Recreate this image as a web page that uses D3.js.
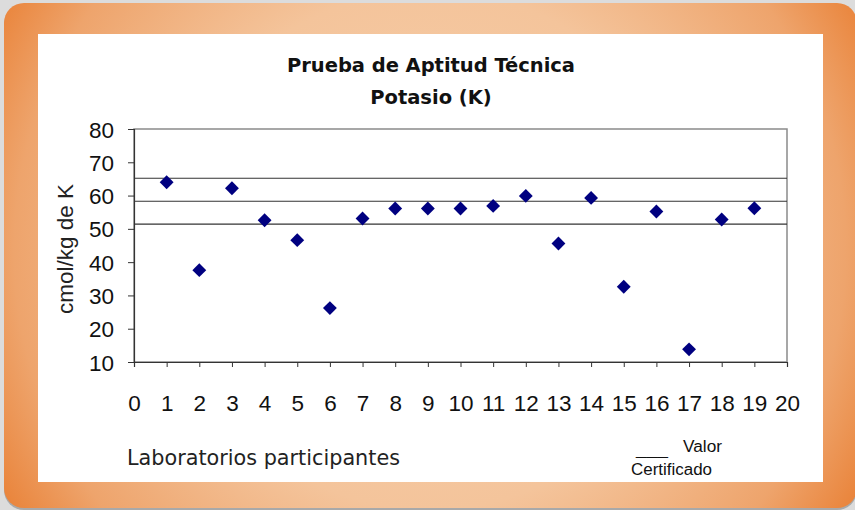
<!DOCTYPE html>
<html>
<head>
<meta charset="utf-8">
<script src="https://cdn.jsdelivr.net/npm/d3@7"></script>
<style>
  body { margin: 0; background: #dcdcdc; }
  svg { display: block; }
</style>
</head>
<body>
<div id="chart"></div>
<script>
// laboratorios participantes y resultados de potasio (cmol/kg)
let labs = [1, 2, 3, 4, 5, 6, 7, 8, 9, 10, 11, 12, 13, 14, 15, 16, 17, 18, 19];
let potasio = [64.0, 37.6, 62.2, 52.6, 46.6, 26.2, 53.1, 56.1, 56.1, 56.1, 56.9, 59.9, 45.6, 59.3, 32.6, 55.2, 13.8, 52.8, 56.2];
// valor certificado y limites
let refLines = [65.2, 58.3, 51.4];
let yTicks = [10, 20, 30, 40, 50, 60, 70, 80];
let xTicks = d3.range(0, 21);

let w = 855;
let h = 510;

let svg = d3.select("#chart")
    .append("svg")
    .attr("width", w)
    .attr("height", h);

let defs = svg.append("defs");
let grad = defs.append("radialGradient")
    .attr("id", "frameGrad")
    .attr("gradientUnits", "userSpaceOnUse")
    .attr("cx", 430).attr("cy", 250).attr("r", 520);
grad.append("stop").attr("offset", "0").attr("stop-color", "#f7d0ac");
grad.append("stop").attr("offset", "0.5").attr("stop-color", "#f4c49b");
grad.append("stop").attr("offset", "0.8").attr("stop-color", "#eea46c");
grad.append("stop").attr("offset", "1").attr("stop-color", "#e8792a");

// marco naranja
svg.append("rect")
    .attr("x", 4).attr("y", 5)
    .attr("width", 853).attr("height", 505)
    .attr("rx", 20)
    .attr("fill", "#a9a9a9");
svg.append("rect")
    .attr("x", 4).attr("y", 3)
    .attr("width", 853).attr("height", 505)
    .attr("rx", 20)
    .attr("fill", "url(#frameGrad)");

svg.append("rect")
    .attr("x", 38).attr("y", 34)
    .attr("width", 785).attr("height", 448)
    .attr("fill", "#ffffff");

let plotLeft = 134, plotRight = 787, plotTop = 129, plotBottom = 362;

let x = d3.scaleLinear().domain([0, 20]).range([plotLeft, plotRight]);
let y = d3.scaleLinear().domain([10, 80]).range([plotBottom, plotTop]);

// titulo
svg.append("text")
    .attr("x", 431).attr("y", 72)
    .attr("text-anchor", "middle")
    .attr("font-family", "DejaVu Sans")
    .attr("font-weight", "bold")
    .attr("font-size", "19.5px")
    .attr("textLength", 288)
    .attr("fill", "#111")
    .text("Prueba de Aptitud Técnica");
svg.append("text")
    .attr("x", 431).attr("y", 104)
    .attr("text-anchor", "middle")
    .attr("font-family", "DejaVu Sans")
    .attr("font-weight", "bold")
    .attr("font-size", "19.5px")
    .attr("fill", "#111")
    .text("Potasio (K)");

// borde del area de trazado
svg.append("rect")
    .attr("x", plotLeft).attr("y", plotTop)
    .attr("width", plotRight - plotLeft).attr("height", plotBottom - plotTop)
    .attr("fill", "none")
    .attr("stroke", "#8a8a8a")
    .attr("stroke-width", 1.5);

// lineas del valor certificado
svg.selectAll("line.ref")
    .data(refLines)
    .enter()
    .append("line")
    .attr("class", "ref")
    .attr("x1", plotLeft).attr("x2", plotRight)
    .attr("y1", function (d) { return y(d); })
    .attr("y2", function (d) { return y(d); })
    .attr("stroke", "#333")
    .attr("stroke-width", 1.2);

// ejes
let yAxis = svg.append("g")
    .attr("transform", "translate(" + plotLeft + ",0)")
    .call(d3.axisLeft(y).tickValues(yTicks).tickSize(6).tickPadding(14));
let xAxis = svg.append("g")
    .attr("transform", "translate(0," + plotBottom + ")")
    .call(d3.axisBottom(x).tickValues(xTicks).tickSize(5).tickPadding(28));

[yAxis, xAxis].forEach(function (g) {
    g.select(".domain").attr("stroke", "#333").attr("stroke-width", 1.2);
    g.selectAll(".tick line").attr("stroke", "#333");
    g.selectAll(".tick text")
        .attr("font-family", "Liberation Sans, Arial, sans-serif")
        .attr("font-size", "22.5px")
        .attr("fill", "#111");
});
yAxis.selectAll(".tick text").attr("dy", "0.36em");

// puntos
svg.selectAll("path.pt")
    .data(potasio)
    .enter()
    .append("path")
    .attr("class", "pt")
    .attr("d", d3.symbol(d3.symbolSquare, 96))
    .attr("transform", function (d, i) {
        return "translate(" + x(labs[i]) + "," + y(d) + ") rotate(45)";
    })
    .attr("fill", "#000080");

// titulos de ejes
svg.append("text")
    .attr("transform", "translate(73,249) rotate(-90)")
    .attr("text-anchor", "middle")
    .attr("font-family", "Liberation Sans, Arial, sans-serif")
    .attr("font-size", "22.5px")
    .attr("fill", "#222")
    .text("cmol/kg de K");

svg.append("text")
    .attr("x", 127).attr("y", 465)
    .attr("font-family", "DejaVu Sans")
    .attr("font-size", "21px")
    .attr("textLength", 273)
    .attr("lengthAdjust", "spacingAndGlyphs")
    .attr("fill", "#222")
    .text("Laboratorios participantes");

svg.append("text")
    .attr("x", 636).attr("y", 455)
    .attr("font-family", "Liberation Sans, Arial, sans-serif")
    .attr("font-size", "15px")
    .attr("textLength", 32)
    .attr("lengthAdjust", "spacingAndGlyphs")
    .attr("fill", "#111")
    .text("___");
svg.append("text")
    .attr("x", 683).attr("y", 452)
    .attr("font-family", "Liberation Sans, Arial, sans-serif")
    .attr("font-size", "16px")
    .attr("textLength", 39)
    .attr("lengthAdjust", "spacingAndGlyphs")
    .attr("fill", "#111")
    .text("Valor");
svg.append("text")
    .attr("x", 631).attr("y", 475)
    .attr("font-family", "Liberation Sans, Arial, sans-serif")
    .attr("font-size", "16px")
    .attr("textLength", 81)
    .attr("lengthAdjust", "spacingAndGlyphs")
    .attr("fill", "#111")
    .text("Certificado");
</script>
</body>
</html>
